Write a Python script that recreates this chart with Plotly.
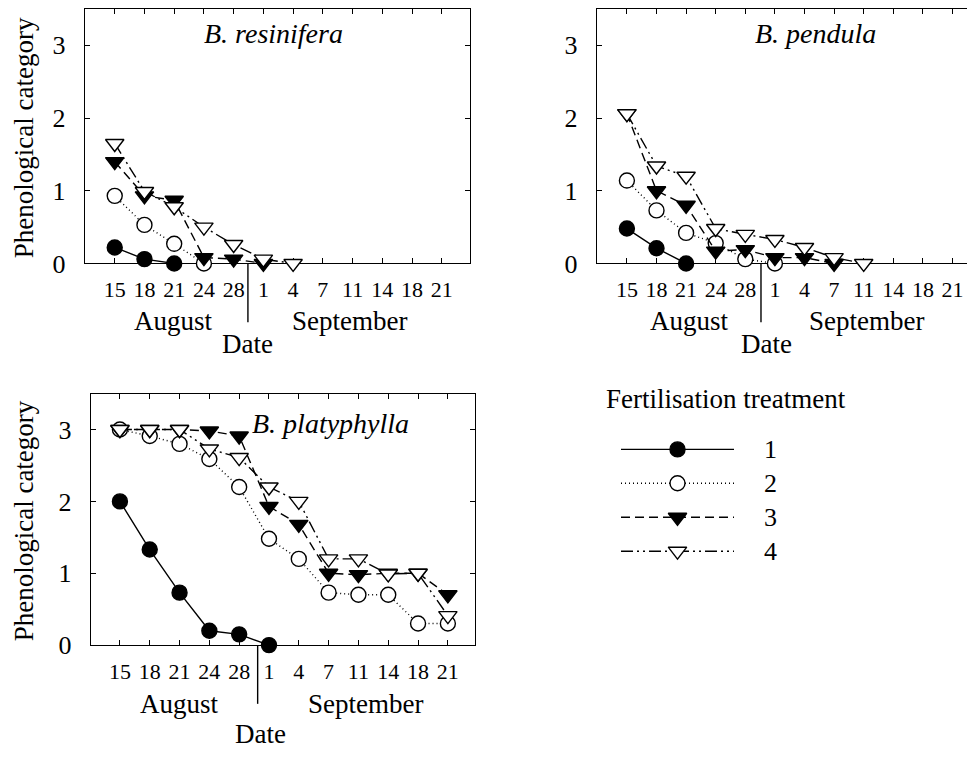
import plotly.graph_objects as go

# ---------------- data ----------------
dates = ["15", "18", "21", "24", "28", "1", "4", "7", "11", "14", "18", "21"]
yticks = [0, 1, 2, 3]
treatments = ["1", "2", "3", "4"]

# B. resinifera
res_t1 = [0.22, 0.06, 0.0]
res_t2 = [0.93, 0.53, 0.27, 0.0]
res_t3 = [1.40, 0.93, 0.87, 0.08, 0.06, 0.0]
res_t4 = [1.65, 0.99, 0.78, 0.50, 0.26, 0.06, 0.0]

# B. pendula
pen_t1 = [0.48, 0.21, 0.0]
pen_t2 = [1.14, 0.73, 0.42, 0.28, 0.06, 0.0]
pen_t3 = [2.06, 1.00, 0.80, 0.17, 0.19, 0.08, 0.08, 0.0]
pen_t4 = [2.06, 1.34, 1.20, 0.48, 0.40, 0.33, 0.22, 0.08, 0.0]

# B. platyphylla
pla_t1 = [2.0, 1.33, 0.73, 0.20, 0.15, 0.0]
pla_t2 = [3.0, 2.91, 2.80, 2.59, 2.20, 1.48, 1.20, 0.73, 0.70, 0.70, 0.30, 0.30]
pla_t3 = [3.0, 3.0, 3.0, 2.98, 2.91, 1.93, 1.68, 1.0, 0.98, 1.0, 1.0, 0.70]
pla_t4 = [3.0, 3.0, 3.0, 2.73, 2.61, 2.20, 2.00, 1.20, 1.20, 0.99, 1.0, 0.41]

panels = [
    dict(title="B. resinifera", series=[res_t1, res_t2, res_t3, res_t4]),
    dict(title="B. pendula", series=[pen_t1, pen_t2, pen_t3, pen_t4]),
    dict(title="B. platyphylla", series=[pla_t1, pla_t2, pla_t3, pla_t4]),
]

# ---------------- styles ----------------
FONT = "Liberation Serif"
OFF = 8                   # page body margin
W, H = 975 - 2 * OFF, 765 - 2 * OFF


def px(x):
    return (x - OFF) / W


def py(y):
    return 1 - (y - OFF) / H


styles = [
    dict(symbol="circle", fill="black", dash="solid", size=15),
    dict(symbol="circle", fill="white", dash="1px,3px", size=15),
    dict(symbol="triangle-down", fill="black", dash="9px,5px", size=16),
    dict(symbol="triangle-down", fill="white", dash="12px,4px,2px,4px,2px,4px", size=16),
]
LW = 1.4

# window-pixel layouts: (left, right, top, bottom), x range, label offsets
layouts = [
    dict(px=(85, 470, 8, 268), xr=[-1.0, 11.95], sep=4.48, aug=1.97, sep_lbl=7.9, date=4.48,
         month_dy=59, date_dy=82, title_xy=(273, 33), ytitle=True),
    dict(px=(597, 967, 8, 268), xr=[-1.01, 11.49], sep=4.53, aug=2.13, sep_lbl=8.1, date=4.7,
         month_dy=59, date_dy=82, title_xy=(815, 33), ytitle=False),
    dict(px=(91, 475, 401, 658), xr=[-0.97, 11.91], sep=4.62, aug=2.0, sep_lbl=8.25, date=4.7,
         month_dy=60, date_dy=91, title_xy=(330, 432), ytitle=True),
]

fig = go.Figure()
annotations = []
shapes = []

for i, (pn, lay) in enumerate(zip(panels, layouts)):
    n = "" if i == 0 else str(i + 1)
    l, r, t, b = lay["px"]
    xdom = [px(l), min(px(r), 1.0)]
    ydom = [py(b), py(t)]
    common = dict(showline=True, linecolor="black", linewidth=LW, showgrid=False,
                  zeroline=False, ticks="inside", ticklen=5, tickcolor="black",
                  tickwidth=LW, layer="below traces")
    fig.update_layout(**{
        "xaxis" + n: dict(domain=xdom, range=lay["xr"], anchor="y" + n,
                          tickmode="array", tickvals=list(range(len(dates))), ticktext=dates,
                          mirror="allticks", ticklabelstandoff=6,
                          tickfont=dict(family=FONT, size=22, color="black"), **common),
        "yaxis" + n: dict(domain=ydom, range=[0, 3.5], anchor="x" + n,
                          tickmode="array", tickvals=yticks,
                          mirror=("allticks" if i != 1 else False), ticklabelstandoff=13,
                          tickfont=dict(family=FONT, size=26, color="black"), **common),
    })
    for k, (vals, st) in enumerate(zip(pn["series"], styles)):
        fig.add_trace(go.Scatter(
            x=list(range(len(vals))), y=vals, xaxis="x" + n, yaxis="y" + n,
            mode="lines+markers", cliponaxis=False, showlegend=False,
            line=dict(color="black", width=LW, dash=st["dash"]),
            marker=dict(symbol=st["symbol"], size=st["size"],
                        color=st["fill"], line=dict(color="black", width=LW)),
        ))
    # month separator
    x0, x1 = lay["xr"]
    xd = (lay["sep"] - x0) / (x1 - x0)
    hpx = b - t
    shapes.append(dict(type="line", xref="x" + n + " domain", yref="y" + n + " domain",
                       x0=xd, x1=xd, y0=0, y1=-60 / hpx,
                       line=dict(color="black", width=LW)))
    month_y = py(b + lay["month_dy"])
    date_y = py(b + lay["date_dy"])
    for txt, xv, yv in [("August", lay["aug"], month_y), ("September", lay["sep_lbl"], month_y),
                        ("Date", lay["date"], date_y)]:
        annotations.append(dict(text=txt, x=xv, y=yv, xref="x" + n, yref="paper",
                                showarrow=False, xanchor="center", yanchor="middle",
                                font=dict(family=FONT, size=27, color="black")))
    tx, ty = lay["title_xy"]
    annotations.append(dict(text="<i>" + pn["title"] + "</i>", x=px(tx), y=py(ty),
                            xref="paper", yref="paper", showarrow=False,
                            xanchor="center", yanchor="middle",
                            font=dict(family=FONT, size=28, color="black")))
    if lay["ytitle"]:
        annotations.append(dict(text="Phenological category", x=px(24),
                                y=py((t + b) / 2 + 2),
                                xref="paper", yref="paper", showarrow=False, textangle=-90,
                                xanchor="center", yanchor="middle",
                                font=dict(family=FONT, size=27, color="black")))

# ---------------- legend (drawn on its own small axes) ----------------
leg_top, leg_bot = 440.65, 579.35
fig.update_layout(
    xaxis4=dict(domain=[px(621), px(734)], range=[0, 1], visible=False, anchor="y4"),
    yaxis4=dict(domain=[py(leg_bot), py(leg_top)], range=[4.5, 0.5], visible=False,
                anchor="x4"),
)
row_h = (leg_bot - leg_top) / 4
for k, (lab, st) in enumerate(zip(treatments, styles)):
    row = k + 1
    fig.add_trace(go.Scatter(x=[0, 1], y=[row, row], xaxis="x4", yaxis="y4", mode="lines",
                             showlegend=False, line=dict(color="black", width=LW, dash=st["dash"])))
    fig.add_trace(go.Scatter(x=[0.5], y=[row], xaxis="x4", yaxis="y4", mode="markers",
                             showlegend=False, cliponaxis=False,
                             marker=dict(symbol=st["symbol"], size=st["size"],
                                         color=st["fill"], line=dict(color="black", width=LW))))
    ypx = leg_top + row_h * (k + 0.5)
    annotations.append(dict(text=lab, x=px(770), y=py(ypx), xref="paper", yref="paper",
                            showarrow=False, xanchor="center", yanchor="middle",
                            font=dict(family=FONT, size=26, color="black")))
annotations.append(dict(text="Fertilisation treatment", x=px(604), y=py(407),
                        xref="paper", yref="paper", showarrow=False,
                        xanchor="left", yanchor="middle",
                        font=dict(family=FONT, size=27, color="black")))

fig.update_layout(width=W, height=H, margin=dict(l=0, r=0, t=0, b=0),
                  paper_bgcolor="white", plot_bgcolor="white",
                  annotations=annotations, shapes=shapes, showlegend=False,
                  font=dict(family=FONT, color="black"))

fig.write_html("out.html")
